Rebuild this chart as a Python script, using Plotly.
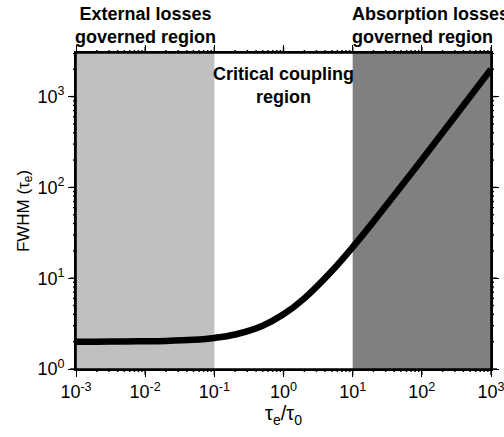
import plotly.graph_objects as go

# Linewidth vs. coupling ratio tau_e / tau_0
ratio = [1e-3, 2e-3, 5e-3, 1e-2, 2e-2, 5e-2, 0.1, 0.2, 0.5, 1, 2, 5,
         10, 20, 50, 100, 200, 500, 1000]
fwhm = [2.0, 2.0, 2.01, 2.02, 2.04, 2.1, 2.2, 2.4, 3.0, 4.0, 6.0, 12,
        22, 42, 102, 202, 402, 1000, 2000]

# Shaded regimes (x extents)
ext_region = [1e-3, 1e-1]
abs_region = [1e1, 1e3]

# Major tick labels
x_tick_vals = [1e-3, 1e-2, 1e-1, 1e0, 1e1, 1e2, 1e3]
x_tick_text = ["10<sup>-3</sup>", "10<sup>-2</sup>", "10<sup>-1</sup>",
               "10<sup>0</sup>", "10<sup>1</sup>", "10<sup>2</sup>",
               "10<sup>3</sup>"]
y_tick_vals = [1e0, 1e1, 1e2, 1e3]
y_tick_text = ["10<sup>0</sup>", "10<sup>1</sup>", "10<sup>2</sup>",
               "10<sup>3</sup>"]

region_labels = {
    "external": "External losses<br>governed region",
    "critical": "Critical coupling<br>region",
    "absorption": "Absorption losses<br>governed region",
}

FONT = "Liberation Sans, Arial, sans-serif"
X_RANGE = [-3, 3]
Y_RANGE = [0, 3.48]
MAJOR_LEN = 6
MINOR_LEN = 3


def minor_positions(lo_exp, hi_exp):
    return [m * 10 ** e for e in range(lo_exp, hi_exp) for m in range(2, 10)]


fig = go.Figure()

fig.add_shape(type="rect", xref="x", yref="paper",
              x0=ext_region[0], x1=ext_region[1], y0=0, y1=1,
              fillcolor="#c0c0c0", line_width=0, layer="below")
fig.add_shape(type="rect", xref="x", yref="paper",
              x0=abs_region[0], x1=abs_region[1], y0=0, y1=1,
              fillcolor="#808080", line_width=0, layer="below")

fig.add_trace(go.Scatter(
    x=ratio, y=fwhm, mode="lines",
    line=dict(color="black", width=6.5, shape="spline"),
    showlegend=False, hoverinfo="skip",
))

# plot frame
fig.add_shape(type="rect", xref="paper", yref="paper", x0=0, x1=1, y0=0,
              y1=1, line=dict(color="black", width=1.6), layer="above")

# tick marks on all four sides (outward), major and minor
tick_line = dict(color="black", width=1.4)
for vals, length in ((x_tick_vals, MAJOR_LEN),
                     (minor_positions(-3, 3), MINOR_LEN)):
    for v in vals:
        for anchor, sign in ((0, -1), (1, 1)):
            fig.add_shape(type="line", xref="x", yref="paper",
                          ysizemode="pixel", yanchor=anchor,
                          x0=v, x1=v, y0=0, y1=sign * length,
                          line=tick_line, layer="above")
for vals, length in ((y_tick_vals, MAJOR_LEN),
                     (minor_positions(0, 4), MINOR_LEN)):
    for v in vals:
        for anchor, sign in ((0, -1), (1, 1)):
            fig.add_shape(type="line", xref="paper", yref="y",
                          xsizemode="pixel", xanchor=anchor,
                          x0=0, x1=sign * length, y0=v, y1=v,
                          line=tick_line, layer="above")

lab_font = dict(family=FONT, size=18, color="black")
fig.add_annotation(x=-2, y=1, xref="x", yref="paper", yanchor="bottom",
                   xanchor="center", yshift=4, showarrow=False,
                   text="<b>" + region_labels["external"] + "</b>",
                   font=lab_font, align="center")
fig.add_annotation(x=0.955, y=1, xref="x", yref="paper", yanchor="bottom",
                   xanchor="left", yshift=4, showarrow=False,
                   text="<b>" + region_labels["absorption"] + "</b>",
                   font=lab_font, align="left")
fig.add_annotation(x=0, y=1, xref="x", yref="paper", yanchor="top",
                   xanchor="center", yshift=-9, showarrow=False,
                   text="<b>" + region_labels["critical"] + "</b>",
                   font=lab_font, align="center")

axis_common = dict(
    type="log", showgrid=False, zeroline=False, automargin=False,
    showline=True, linecolor="black", linewidth=1.6, mirror="ticks",
    ticks="outside", ticklen=MAJOR_LEN, tickwidth=1.4, tickcolor="black",
    tickfont=dict(family=FONT, size=18, color="black"),
    ticklabeloverflow="allow",
)

fig.update_layout(
    width=504, height=437,
    margin=dict(l=76, r=13, t=53, b=68),
    paper_bgcolor="white", plot_bgcolor="white",
    font=dict(family=FONT, color="black"),
    xaxis=dict(**axis_common, range=X_RANGE,
               tickmode="array", tickvals=x_tick_vals, ticktext=x_tick_text,
               title=dict(text="τ<sub>e</sub>/τ<sub>0</sub>",
                          font=dict(family=FONT, size=20, color="black"),
                          standoff=4)),
    yaxis=dict(**axis_common, range=Y_RANGE,
               tickmode="array", tickvals=y_tick_vals, ticktext=y_tick_text,
               title=dict(text="FWHM (τ<sub>e</sub>)",
                          font=dict(family=FONT, size=17, color="black"),
                          standoff=4)),
)

fig.write_html("out.html")
